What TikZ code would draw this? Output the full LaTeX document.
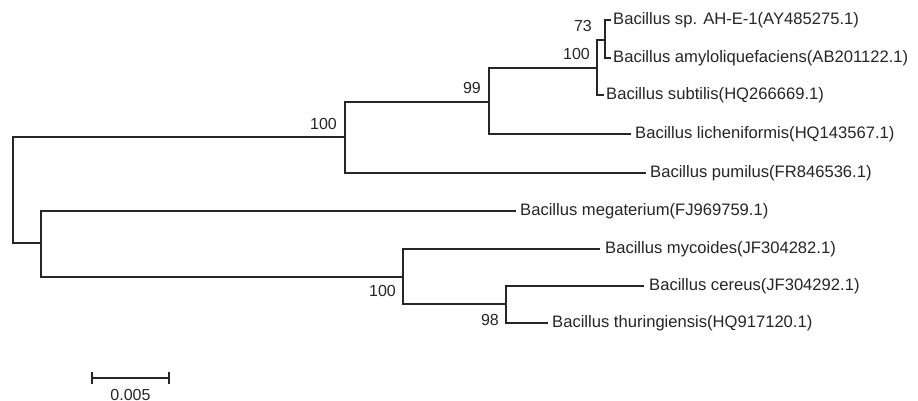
\documentclass[tikz,border=0pt]{standalone}
\usepackage{fontspec}
\setmainfont{Liberation Sans}
\usetikzlibrary{calc}
\begin{document}
\begin{tikzpicture}[x=1pt,y=-1pt,
  branch/.style={line width=1.3pt, draw=black!85, line cap=rect},
  leaf/.style={anchor=west, inner sep=0pt, font=\fontsize{16.6}{16.6}\selectfont, text=black!85},
  boot/.style={inner sep=0pt, font=\fontsize{16}{16}\selectfont, text=black!85}]
\useasboundingbox (0,0) rectangle (918,401);
\fill[white] (0,0) rectangle (918,401);
% internal nodes
\coordinate (root) at (13,190);
\coordinate (nA) at (345,137);
\coordinate (n99) at (489,102);
\coordinate (n100a) at (597,68);
\coordinate (n73) at (605,40);
\coordinate (nB) at (41,243);
\coordinate (n100b) at (403,277);
\coordinate (n98) at (506,304);
% leaf ends
\coordinate (lAH) at (610,20);
\coordinate (lAm) at (610,58);
\coordinate (lSu) at (603,95);
\coordinate (lLi) at (630,134);
\coordinate (lPu) at (645,173);
\coordinate (lMe) at (515,211);
\coordinate (lMy) at (599,249);
\coordinate (lCe) at (643,286);
\coordinate (lTh) at (547,323);
% branches
\draw[branch] (nA) -| (root) |- (nB);
\draw[branch] (n99) -| (nA) |- (lPu);
\draw[branch] (n100a) -| (n99) |- (lLi);
\draw[branch] (n73) -| (n100a) |- (lSu);
\draw[branch] (lAH) -| (n73) |- (lAm);
\draw[branch] (lMe) -| (nB) |- (n100b);
\draw[branch] (lMy) -| (n100b) |- (n98);
\draw[branch] (lCe) -| (n98) |- (lTh);
% leaf labels
\node[leaf] (tAH) at ([xshift=3pt]lAH) {Bacillus sp. AH-E-1(AY485275.1)};
\node[leaf] (tAm) at ([xshift=3pt]lAm) {Bacillus amyloliquefaciens(AB201122.1)};
\node[leaf] (tSu) at ([xshift=3pt]lSu) {Bacillus subtilis(HQ266669.1)};
\node[leaf] (tLi) at ([xshift=5pt]lLi) {Bacillus licheniformis(HQ143567.1)};
\node[leaf] (tPu) at ([xshift=5pt]lPu) {Bacillus pumilus(FR846536.1)};
\node[leaf] (tMe) at ([xshift=5pt]lMe) {Bacillus megaterium(FJ969759.1)};
\node[leaf] (tMy) at ([xshift=6pt]lMy) {Bacillus mycoides(JF304282.1)};
\node[leaf] (tCe) at ([xshift=6pt]lCe) {Bacillus cereus(JF304292.1)};
\node[leaf] (tTh) at ([xshift=5pt]lTh) {Bacillus thuringiensis(HQ917120.1)};
% bootstrap values
\node[boot, anchor=south east] (bA) at ([shift={(-8,-7)}]nA) {100};
\node[boot, anchor=south east] (b99) at ([shift={(-8,-8)}]n99) {99};
\node[boot, anchor=south east] (b100a) at ([shift={(-7,-8)}]n100a) {100};
\node[boot, anchor=south east] (b73) at ([shift={(-13,-8)}]n73) {73};
\node[boot, anchor=north east] (b100b) at ([shift={(-7,8)}]n100b) {100};
\node[boot, anchor=north east] (b98) at ([shift={(-7,10)}]n98) {98};
% scale bar
\coordinate (sL) at (92,378);
\coordinate (sR) at (169,378);
\coordinate (sM) at ($(sL)!0.5!(sR)$);
\draw[branch, line cap=butt] (sL) -- (sR);
\draw[branch, line cap=butt] ([yshift=-6pt]sL) -- ([yshift=6pt]sL);
\draw[branch, line cap=butt] ([yshift=-6pt]sR) -- ([yshift=6pt]sR);
\node[boot, anchor=north] (sT) at ([yshift=-11pt]sM) {0.005};
\end{tikzpicture}
\end{document}
